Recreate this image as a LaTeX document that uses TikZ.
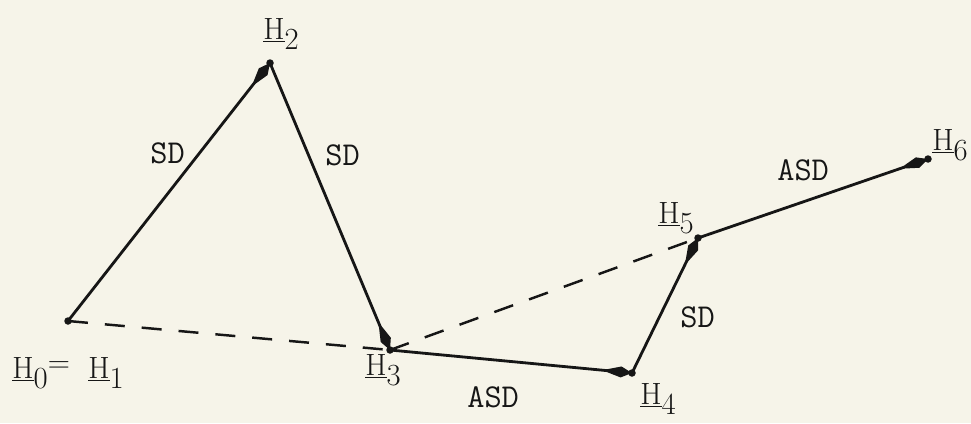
\documentclass[tikz,border=0pt]{standalone}
\usetikzlibrary{arrows.meta}
\definecolor{paper}{RGB}{246,244,233}
\definecolor{ink}{RGB}{22,22,22}
\newcommand\hpt[1]{\underline{H}\raisebox{-6pt}{#1}}
\begin{document}
\begin{tikzpicture}[%
    x=0.02cm, y=-0.02cm,%
    move/.style={draw=ink,line width=1.6pt,%
        -{Kite[length=0.6cm,width=0.22cm,inset=0.38cm]}},%
    link/.style={draw=ink,line width=1.4pt,dash pattern=on 0.4cm off 0.34cm},%
    hlabel/.style={anchor=base west,inner sep=0pt,%
        font=\fontsize{17.5}{19}\selectfont,text=ink},%
    dlabel/.style={anchor=base west,inner sep=0pt,%
        font=\fontsize{19}{21}\selectfont\ttfamily,text=ink},%
]
    \fill[paper] (0,0) rectangle (971,423);
    \useasboundingbox (0,0) rectangle (971,423);

    % search points
    \coordinate (H0) at (68,321);
    \coordinate (H2) at (270,63);
    \coordinate (H3) at (390,350);
    \coordinate (H4) at (632,373);
    \coordinate (H5) at (698,238);
    \coordinate (H6) at (928,159);

    % dashed lines
    \draw[link] (H0) -- (H3);
    \draw[link] (H3) -- (H5);

    % steps
    \foreach \a/\b in {H0/H2,H2/H3,H3/H4,H4/H5,H5/H6}{%
        \draw[move] (\a) -- (\b);
    }
    \foreach \p in {H0,H2,H3,H4,H5,H6}{%
        \fill[ink] (\p) circle (0.075cm);
    }

    % point labels
    \node[hlabel] (lH0) at (12,378) {\hpt{0}\raisebox{3pt}{=}};
    \node[hlabel] (lH1) at (88,378) {\hpt{1}};
    \node[hlabel] (lH2) at (263,39) {\hpt{2}};
    \node[hlabel] (lH3) at (365,375) {\hpt{3}};
    \node[hlabel] (lH4) at (640,404) {\hpt{4}};
    \node[hlabel] (lH5) at (658,223) {\hpt{5}};
    \node[hlabel] (lH6) at (932,150) {\hpt{6}};

    % step labels
    \node[dlabel] (sd1) at (150,163) {SD};
    \node[dlabel] (sd2) at (325,165) {SD};
    \node[dlabel] (asd1) at (467,407) {ASD};
    \node[dlabel] (sd3) at (680,327) {SD};
    \node[dlabel] (asd2) at (777,180) {ASD};
\end{tikzpicture}
\end{document}
